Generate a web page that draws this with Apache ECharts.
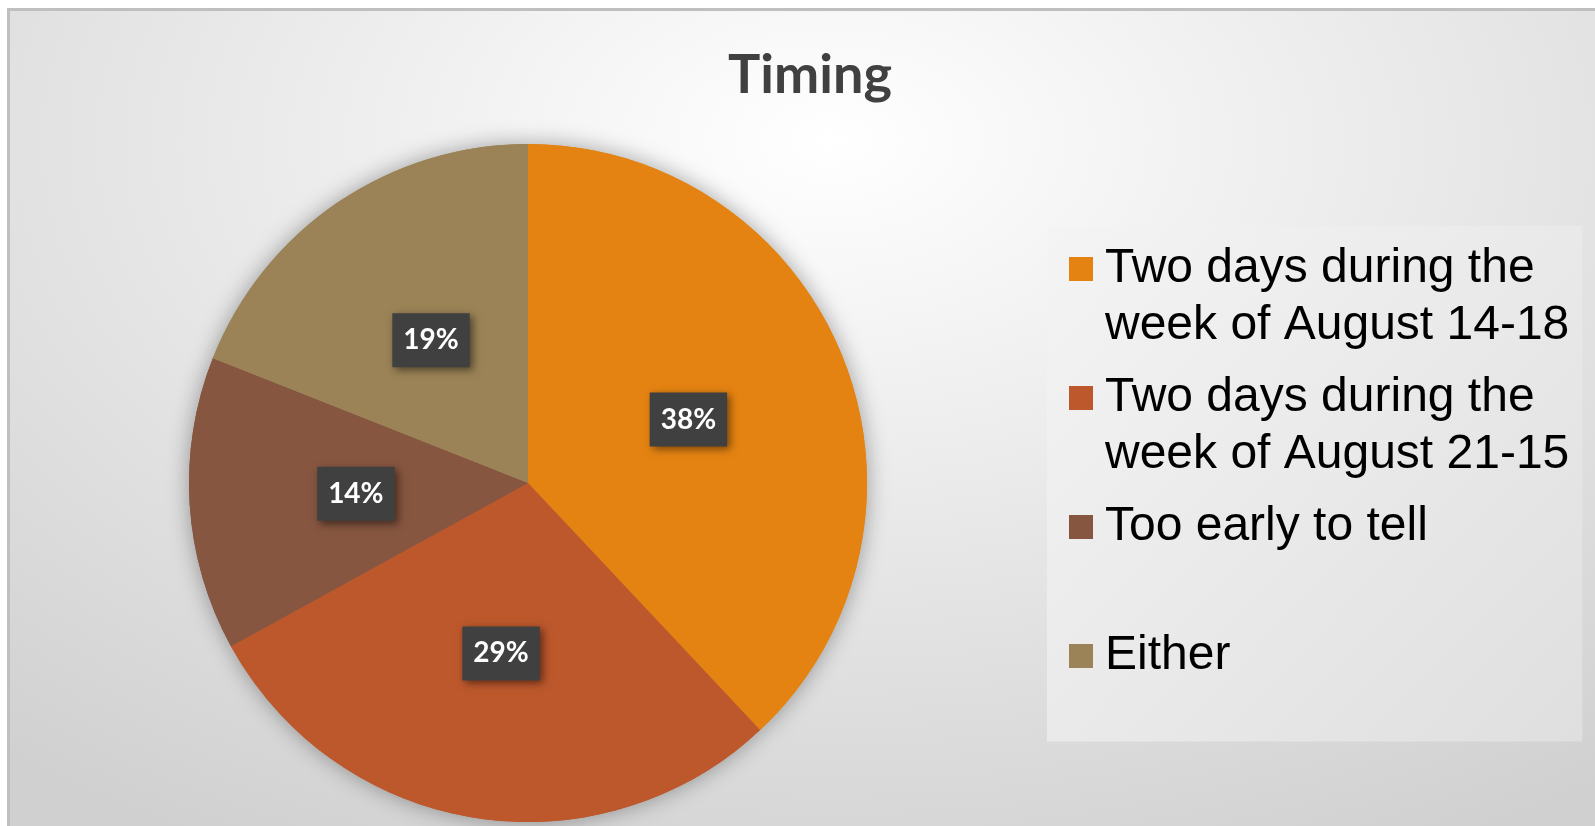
<!DOCTYPE html>
<html>
<head>
<meta charset="utf-8">
<script src="https://cdn.jsdelivr.net/npm/echarts@6/dist/echarts.min.js"></script>
<style>
  html, body { margin: 0; padding: 0; background: #ffffff; overflow: hidden; width: 1595px; height: 826px; }
  #frame {
    position: absolute; left: 7px; top: 8px;
    width: 1600px; height: 830px;
    border-left: 3px solid #bfbfbf; border-top: 3px solid #bfbfbf;
    background: radial-gradient(ellipse 1300px 800px at 820px 130px, #ffffff 0%, #d0d0d0 100%);
  }
  #chart { position: absolute; left: 0; top: 0; width: 1600px; height: 826px; }
</style>
</head>
<body>
<div id="frame"><div id="chart"></div></div>
<script>
const titleText = 'Timing';
const categories = [
  'Two days during the week of August 14-18',
  'Two days during the week of August 21-15',
  'Too early to tell',
  'Either'
];
const legendLabels = [
  'Two days during the\nweek of August 14-18',
  'Two days during the\nweek of August 21-15',
  'Too early to tell\n ',
  'Either\n '
];
const values = [38, 29, 14, 19];
const colors = ['#E48312', '#BD582C', '#865640', '#9B8357'];

const pieData = categories.map((c, i) => ({ name: c, value: values[i], itemStyle: { color: colors[i] } }));

const chart = echarts.init(document.getElementById('chart'), null, { renderer: 'canvas' });
chart.setOption({
  backgroundColor: 'transparent',
  animation: false,
  title: {
    text: titleText,
    left: 'center',
    top: 30,
    textStyle: { fontFamily: 'Lato', fontWeight: 'bold', fontSize: 54, color: '#404040', lineHeight: 60 }
  },
  legend: {
    orient: 'vertical',
    left: 1037,
    top: 215,
    padding: [14.5, 13, 0, 22],
    itemGap: 15,
    itemWidth: 31,
    itemHeight: 114,
    icon: 'path://M0,0L31,0M0,16.5L24,16.5L24,40.5L0,40.5ZM0,114L31,114',
    itemStyle: { borderWidth: 0 },
    backgroundColor: {
      type: 'linear', x: 0, y: 0, x2: 1, y2: 1,
      colorStops: [{ offset: 0, color: '#f4f4f4' }, { offset: 1, color: '#dfdfdf' }]
    },
    data: categories,
    formatter: name => legendLabels[categories.indexOf(name)],
    textStyle: { fontFamily: 'Liberation Sans', fontSize: 48, lineHeight: 57, color: '#000000' }
  },
  series: [
    {
      type: 'pie',
      silent: true,
      center: [518, 472],
      radius: 339,
      startAngle: 90,
      clockwise: true,
      z: 1,
      legendHoverLink: false,
      label: { show: false },
      labelLine: { show: false },
      itemStyle: { shadowBlur: 22, shadowColor: 'rgba(0,0,0,0.35)', borderWidth: 0 },
      data: pieData
    },
    {
      type: 'pie',
      center: [518, 472],
      radius: 339,
      startAngle: 90,
      clockwise: true,
      z: 2,
      itemStyle: { borderWidth: 0 },
      label: {
        show: true,
        position: 'inside',
        formatter: '{d}%',
        color: '#ffffff',
        fontFamily: 'Lato',
        fontWeight: 'bold',
        fontSize: 28,
        lineHeight: 34,
        backgroundColor: '#404040',
        padding: [10, 11],
        shadowBlur: 8,
        shadowOffsetX: 3,
        shadowOffsetY: 3,
        shadowColor: 'rgba(0,0,0,0.5)'
      },
      labelLine: { show: false },
      emphasis: { disabled: true },
      data: pieData
    }
  ]
});
</script>
</body>
</html>
